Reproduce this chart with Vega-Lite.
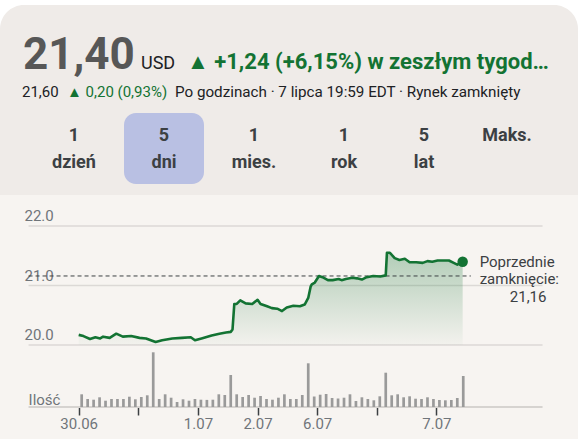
{
  "$schema": "https://vega.github.io/schema/vega-lite/v6.json",
  "background": "#ffffff",
  "padding": {"top": 5, "left": 0, "right": 0, "bottom": 0},
  "spacing": 0,
  "bounds": "flush",
  "config": {"view": {"stroke": null}, "font": "Roboto", "text": {"font": "Roboto"}},
  "datasets": {
    "prices": [
      {"t": 0, "price": 20.17}, {"t": 0.8, "price": 20.15}, {"t": 1.9, "price": 20.10}, {"t": 2.8, "price": 20.13},
      {"t": 3.6, "price": 20.11}, {"t": 4.1, "price": 20.14}, {"t": 5.2, "price": 20.12}, {"t": 6.3, "price": 20.19},
      {"t": 7.4, "price": 20.14}, {"t": 8.8, "price": 20.15}, {"t": 10.2, "price": 20.12}, {"t": 11.3, "price": 20.11},
      {"t": 12.9, "price": 20.05}, {"t": 14.0, "price": 20.08}, {"t": 15.7, "price": 20.11}, {"t": 17.3, "price": 20.12},
      {"t": 18.8, "price": 20.13}, {"t": 19.5, "price": 20.08}, {"t": 20.6, "price": 20.11}, {"t": 22.3, "price": 20.16},
      {"t": 23.6, "price": 20.19}, {"t": 24.7, "price": 20.21}, {"t": 25.5, "price": 20.22}, {"t": 25.8, "price": 20.26},
      {"t": 26.1, "price": 20.69}, {"t": 26.5, "price": 20.69}, {"t": 27.1, "price": 20.75}, {"t": 28.0, "price": 20.70},
      {"t": 29.1, "price": 20.69}, {"t": 30.0, "price": 20.76}, {"t": 30.5, "price": 20.69}, {"t": 31.6, "price": 20.65},
      {"t": 32.4, "price": 20.62}, {"t": 33.3, "price": 20.61}, {"t": 34.1, "price": 20.57}, {"t": 34.9, "price": 20.63},
      {"t": 36.0, "price": 20.66}, {"t": 37.1, "price": 20.65}, {"t": 37.9, "price": 20.68}, {"t": 38.5, "price": 20.79},
      {"t": 38.9, "price": 20.98}, {"t": 39.1, "price": 21.02}, {"t": 39.6, "price": 21.05}, {"t": 40.3, "price": 21.16},
      {"t": 40.9, "price": 21.14}, {"t": 41.8, "price": 21.09}, {"t": 42.6, "price": 21.09}, {"t": 43.6, "price": 21.11},
      {"t": 44.1, "price": 21.09}, {"t": 44.8, "price": 21.11}, {"t": 45.9, "price": 21.13}, {"t": 46.7, "price": 21.12},
      {"t": 47.5, "price": 21.10}, {"t": 48.3, "price": 21.14}, {"t": 49.4, "price": 21.16}, {"t": 50.6, "price": 21.15},
      {"t": 51.5, "price": 21.17}, {"t": 51.7, "price": 21.55}, {"t": 52.2, "price": 21.55}, {"t": 53.0, "price": 21.46},
      {"t": 53.8, "price": 21.43}, {"t": 54.7, "price": 21.45}, {"t": 55.5, "price": 21.39}, {"t": 56.6, "price": 21.39},
      {"t": 57.7, "price": 21.38}, {"t": 58.5, "price": 21.41}, {"t": 59.3, "price": 21.40}, {"t": 60.2, "price": 21.42},
      {"t": 61.3, "price": 21.42}, {"t": 62.1, "price": 21.42}, {"t": 62.9, "price": 21.38}, {"t": 63.5, "price": 21.35},
      {"t": 64.4, "price": 21.40}
    ],
    "volume": [
      {"t": 0.5, "volume": 127000}, {"t": 1.5, "volume": 80000}, {"t": 2.5, "volume": 73000}, {"t": 3.5, "volume": 97000},
      {"t": 4.5, "volume": 63000}, {"t": 5.5, "volume": 80000}, {"t": 6.5, "volume": 80000}, {"t": 7.5, "volume": 80000},
      {"t": 8.5, "volume": 103000}, {"t": 9.5, "volume": 77000}, {"t": 10.5, "volume": 100000}, {"t": 11.5, "volume": 117000},
      {"t": 12.5, "volume": 547000}, {"t": 13.5, "volume": 80000}, {"t": 14.5, "volume": 127000}, {"t": 15.5, "volume": 93000},
      {"t": 16.5, "volume": 50000}, {"t": 17.5, "volume": 77000}, {"t": 18.5, "volume": 63000}, {"t": 19.5, "volume": 80000},
      {"t": 20.5, "volume": 73000}, {"t": 21.5, "volume": 71000}, {"t": 22.5, "volume": 73000}, {"t": 23.5, "volume": 127000},
      {"t": 24.5, "volume": 120000}, {"t": 25.5, "volume": 320000}, {"t": 26.5, "volume": 127000}, {"t": 27.5, "volume": 100000},
      {"t": 28.5, "volume": 120000}, {"t": 29.5, "volume": 93000}, {"t": 30.5, "volume": 110000}, {"t": 31.5, "volume": 80000},
      {"t": 32.5, "volume": 73000}, {"t": 33.5, "volume": 93000}, {"t": 34.5, "volume": 127000}, {"t": 35.5, "volume": 80000},
      {"t": 36.5, "volume": 80000}, {"t": 37.5, "volume": 120000}, {"t": 38.5, "volume": 437000}, {"t": 39.5, "volume": 105000},
      {"t": 40.5, "volume": 123000}, {"t": 41.5, "volume": 130000}, {"t": 42.5, "volume": 90000}, {"t": 43.5, "volume": 85000},
      {"t": 44.5, "volume": 93000}, {"t": 45.5, "volume": 127000}, {"t": 46.5, "volume": 60000}, {"t": 47.5, "volume": 97000},
      {"t": 48.5, "volume": 80000}, {"t": 49.5, "volume": 67000}, {"t": 50.5, "volume": 107000}, {"t": 51.5, "volume": 343000},
      {"t": 52.5, "volume": 117000}, {"t": 53.5, "volume": 127000}, {"t": 54.5, "volume": 97000}, {"t": 55.5, "volume": 107000},
      {"t": 56.5, "volume": 83000}, {"t": 57.5, "volume": 80000}, {"t": 58.5, "volume": 97000}, {"t": 59.5, "volume": 80000},
      {"t": 60.5, "volume": 70000}, {"t": 61.5, "volume": 67000}, {"t": 62.5, "volume": 70000}, {"t": 63.5, "volume": 90000},
      {"t": 64.5, "volume": 310000}
    ]
  },
  "vconcat": [
    {
      "width": 578,
      "height": 190,
      "layer": [
        {
          "data": {"values": [{}]},
          "mark": {"type": "rect", "fill": "#efebe8", "cornerRadiusTopLeft": 24, "cornerRadiusTopRight": 24},
          "encoding": {}
        },
        {
          "data": {"values": [{}]},
          "mark": {"type": "rect", "fill": "#b9c0e3", "cornerRadius": 12},
          "encoding": {"x": {"value": 124}, "x2": {"value": 204}, "y": {"value": 108}, "y2": {"value": 179}}
        },
        {
          "data": {"values": [{"text": "21,40"}]},
          "mark": {"type": "text", "align": "left", "baseline": "alphabetic", "fontSize": 44, "fontWeight": "bold", "color": "#575757"},
          "encoding": {"text": {"field": "text"}, "x": {"value": 23}, "y": {"value": 64}}
        },
        {
          "data": {"values": [{"text": "USD"}]},
          "mark": {"type": "text", "align": "left", "baseline": "alphabetic", "fontSize": 18, "color": "#202124"},
          "encoding": {"text": {"field": "text"}, "x": {"value": 141}, "y": {"value": 64}}
        },
        {
          "data": {"values": [{"text": "▲ +1,24 (+6,15%) w zeszłym tygodniu"}]},
          "mark": {"type": "text", "align": "left", "baseline": "alphabetic", "fontSize": 22, "fontWeight": "bold", "color": "#137333", "limit": 366},
          "encoding": {"text": {"field": "text"}, "x": {"value": 187}, "y": {"value": 64}}
        },
        {
          "data": {"values": [{"text": "21,60"}]},
          "mark": {"type": "text", "align": "left", "baseline": "alphabetic", "fontSize": 15, "color": "#202124"},
          "encoding": {"text": {"field": "text"}, "x": {"value": 22}, "y": {"value": 92}}
        },
        {
          "data": {"values": [{"text": "▲ 0,20 (0,93%)"}]},
          "mark": {"type": "text", "align": "left", "baseline": "alphabetic", "fontSize": 15, "color": "#137333"},
          "encoding": {"text": {"field": "text"}, "x": {"value": 67}, "y": {"value": 92}}
        },
        {
          "data": {"values": [{"text": "Po godzinach · 7 lipca 19:59 EDT · Rynek zamknięty"}]},
          "mark": {"type": "text", "align": "left", "baseline": "alphabetic", "fontSize": 15.2, "color": "#202124"},
          "encoding": {"text": {"field": "text"}, "x": {"value": 175}, "y": {"value": 92}}
        },
        {
          "data": {"values": [{"label": ["1", "dzień"]}]},
          "mark": {"type": "text", "align": "center", "baseline": "alphabetic", "fontSize": 18, "fontWeight": "bold", "lineHeight": 27, "color": "#3c4043"},
          "encoding": {"text": {"field": "label"}, "x": {"value": 74}, "y": {"value": 136}}
        },
        {
          "data": {"values": [{"label": ["5", "dni"]}]},
          "mark": {"type": "text", "align": "center", "baseline": "alphabetic", "fontSize": 18, "fontWeight": "bold", "lineHeight": 27, "color": "#3c4043"},
          "encoding": {"text": {"field": "label"}, "x": {"value": 164}, "y": {"value": 136}}
        },
        {
          "data": {"values": [{"label": ["1", "mies."]}]},
          "mark": {"type": "text", "align": "center", "baseline": "alphabetic", "fontSize": 18, "fontWeight": "bold", "lineHeight": 27, "color": "#3c4043"},
          "encoding": {"text": {"field": "label"}, "x": {"value": 254}, "y": {"value": 136}}
        },
        {
          "data": {"values": [{"label": ["1", "rok"]}]},
          "mark": {"type": "text", "align": "center", "baseline": "alphabetic", "fontSize": 18, "fontWeight": "bold", "lineHeight": 27, "color": "#3c4043"},
          "encoding": {"text": {"field": "label"}, "x": {"value": 344}, "y": {"value": 136}}
        },
        {
          "data": {"values": [{"label": ["5", "lat"]}]},
          "mark": {"type": "text", "align": "center", "baseline": "alphabetic", "fontSize": 18, "fontWeight": "bold", "lineHeight": 27, "color": "#3c4043"},
          "encoding": {"text": {"field": "label"}, "x": {"value": 424}, "y": {"value": 136}}
        },
        {
          "data": {"values": [{"label": "Maks."}]},
          "mark": {"type": "text", "align": "center", "baseline": "alphabetic", "fontSize": 18, "fontWeight": "bold", "color": "#3c4043"},
          "encoding": {"text": {"field": "label"}, "x": {"value": 507}, "y": {"value": 136}}
        }
      ]
    },
    {
      "width": 578,
      "height": 244,
      "view": {"fill": "#f7f4f1", "stroke": null},
      "resolve": {"scale": {"y": "independent"}},
      "layer": [
        {
          "layer": [
            {
              "data": {"values": [{"volume": 0}]},
              "mark": {"type": "rule", "color": "#d6d3d0", "strokeWidth": 2},
              "encoding": {
                "y": {"field": "volume", "type": "quantitative", "scale": {"domain": [-320000, 2120000], "nice": false, "zero": false}, "axis": null},
                "x": {"datum": -8.41, "type": "quantitative", "scale": {"domain": [-12.362, 82.908], "nice": false, "zero": false}},
                "x2": {"datum": 77.8}
              }
            },
            {
              "data": {"name": "volume"},
              "mark": {"type": "bar", "color": "#9a9a9a", "size": 2.7},
              "encoding": {
                "x": {
                  "field": "t", "type": "quantitative",
                  "scale": {"domain": [-12.362, 82.908], "nice": false, "zero": false},
                  "axis": {
                    "orient": "bottom", "offset": -32, "values": [0, 10, 20, 30, 40, 50, 60],
                    "labelExpr": "datum.value == 0 ? '30.06' : datum.value == 20 ? '1.07' : datum.value == 30 ? '2.07' : datum.value == 40 ? '6.07' : datum.value == 60 ? '7.07' : ''",
                    "grid": false, "domain": false, "ticks": true, "tickColor": "#3c4043", "tickWidth": 1.5, "tickSize": 8,
                    "labelPadding": 1, "labelColor": "#70757a", "labelFontSize": 15, "labelFont": "Roboto", "labelFlush": false, "labelOverlap": false, "title": null
                  }
                },
                "y": {"field": "volume", "type": "quantitative", "scale": {"domain": [-320000, 2120000], "nice": false, "zero": false}, "axis": null},
                "y2": {"datum": 0}
              }
            },
            {
              "data": {"values": [{"label": "Ilość", "volume": 0}]},
              "mark": {"type": "text", "align": "left", "baseline": "alphabetic", "dy": -2, "fontSize": 15, "color": "#70757a"},
              "encoding": {
                "text": {"field": "label"},
                "x": {"datum": -8.41, "type": "quantitative", "scale": {"domain": [-12.362, 82.908], "nice": false, "zero": false}},
                "y": {"field": "volume", "type": "quantitative", "scale": {"domain": [-320000, 2120000], "nice": false, "zero": false}, "axis": null}
              }
            }
          ]
        },
        {
          "layer": [
            {
              "data": {"values": [{"price": 20}, {"price": 21}, {"price": 22}]},
              "mark": {"type": "rule", "color": "#dcd9d6", "strokeWidth": 1.5},
              "encoding": {
                "y": {
                  "field": "price", "type": "quantitative",
                  "scale": {"domain": [18.42, 22.521], "nice": false, "zero": false},
                  "axis": {
                    "orient": "left", "offset": -24, "values": [20, 21, 22], "format": ".1f",
                    "grid": false, "domain": false, "ticks": false, "tickSize": 0, "labelPadding": 0,
                    "labelAlign": "left", "labelBaseline": "alphabetic", "labelOffset": -5,
                    "labelColor": "#70757a", "labelFontSize": 15, "labelFont": "Roboto", "title": null
                  }
                },
                "x": {"datum": -8.41, "type": "quantitative", "scale": {"domain": [-12.362, 82.908], "nice": false, "zero": false}},
                "x2": {"datum": 77.8}
              }
            },
            {
              "data": {"name": "prices"},
              "mark": {
                "type": "area",
                "color": {
                  "gradient": "linear", "x1": 0, "y1": 0, "x2": 0, "y2": 1,
                  "stops": [{"offset": 0, "color": "rgba(19,115,51,0.30)"}, {"offset": 1, "color": "rgba(19,115,51,0.02)"}]
                }
              },
              "encoding": {
                "x": {"field": "t", "type": "quantitative", "scale": {"domain": [-12.362, 82.908], "nice": false, "zero": false}},
                "y": {"field": "price", "type": "quantitative", "scale": {"domain": [18.42, 22.521], "nice": false, "zero": false}},
                "y2": {"datum": 20}
              }
            },
            {
              "data": {"values": [{"close": 21.16}]},
              "mark": {"type": "rule", "color": "#3c4043", "strokeDash": [4, 3], "strokeWidth": 1},
              "encoding": {
                "y": {"field": "close", "type": "quantitative", "scale": {"domain": [18.42, 22.521], "nice": false, "zero": false}},
                "x": {"datum": -8.41, "type": "quantitative", "scale": {"domain": [-12.362, 82.908], "nice": false, "zero": false}},
                "x2": {"datum": 65.77}
              }
            },
            {
              "data": {"name": "prices"},
              "mark": {"type": "line", "color": "#137333", "strokeWidth": 2.6, "strokeJoin": "round"},
              "encoding": {
                "x": {"field": "t", "type": "quantitative", "scale": {"domain": [-12.362, 82.908], "nice": false, "zero": false}},
                "y": {"field": "price", "type": "quantitative", "scale": {"domain": [18.42, 22.521], "nice": false, "zero": false}}
              }
            },
            {
              "data": {"name": "prices"},
              "transform": [
                {"joinaggregate": [{"op": "max", "field": "t", "as": "tmax"}]},
                {"filter": "datum.t == datum.tmax"}
              ],
              "mark": {"type": "point", "filled": true, "opacity": 1, "size": 110, "color": "#137333"},
              "encoding": {
                "x": {"field": "t", "type": "quantitative", "scale": {"domain": [-12.362, 82.908], "nice": false, "zero": false}},
                "y": {"field": "price", "type": "quantitative", "scale": {"domain": [18.42, 22.521], "nice": false, "zero": false}}
              }
            },
            {
              "data": {"values": [{"label": ["Poprzednie", "zamknięcie:"]}]},
              "mark": {"type": "text", "align": "left", "baseline": "alphabetic", "fontSize": 15, "lineHeight": 17.5, "color": "#3c4043"},
              "encoding": {
                "text": {"field": "label"},
                "x": {"datum": 67.25, "type": "quantitative", "scale": {"domain": [-12.362, 82.908], "nice": false, "zero": false}},
                "y": {"datum": 21.311, "type": "quantitative", "scale": {"domain": [18.42, 22.521], "nice": false, "zero": false}}
              }
            },
            {
              "data": {"values": [{"label": "21,16"}]},
              "mark": {"type": "text", "align": "right", "baseline": "alphabetic", "fontSize": 15, "color": "#3c4043"},
              "encoding": {
                "text": {"field": "label"},
                "x": {"datum": 78.46, "type": "quantitative", "scale": {"domain": [-12.362, 82.908], "nice": false, "zero": false}},
                "y": {"datum": 20.723, "type": "quantitative", "scale": {"domain": [18.42, 22.521], "nice": false, "zero": false}}
              }
            }
          ]
        }
      ]
    }
  ]
}
